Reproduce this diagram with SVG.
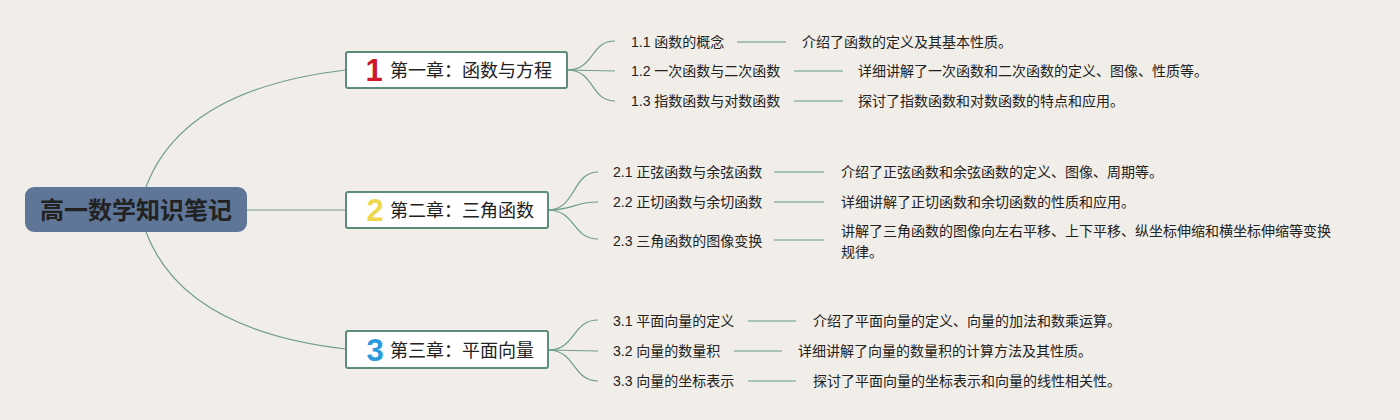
<svg xmlns="http://www.w3.org/2000/svg" width="1400" height="420" viewBox="0 0 1400 420">
<style>
.t{font-family:"Liberation Sans","Noto Sans CJK SC",sans-serif;fill:#222}
.leaf{font-size:14px}
.ch{font-size:18px}
.num{font-family:"Liberation Sans","Noto Sans CJK SC",sans-serif;font-size:31px;font-weight:900;text-anchor:middle}
.br{fill:none;stroke:#6f9c8b;stroke-width:1.2}
.ln{fill:none;stroke:#a8c2b6;stroke-width:2}
.box{fill:#fff;stroke:#5e8c7c;stroke-width:2}
</style>
<rect width="1400" height="420" fill="#f1ede8"/>
<g id="connectors">
<path class="br" d="M146,187 C175,110 260,80 346,70"/>
<path class="br" d="M247,210 L346,210"/>
<path class="br" d="M146,232 C175,309 260,339 346,349"/>
<path class="br" d="M567,70 C595,70 590,41 615,41"/>
<path class="br" d="M567,70 L615,71"/>
<path class="br" d="M567,70 C595,70 590,101 615,101"/>
<path class="br" d="M548,210 C576,210 572,172 598,172"/>
<path class="br" d="M548,210 C576,210 572,202 598,202"/>
<path class="br" d="M548,210 C576,210 572,239 598,239"/>
<path class="br" d="M548,350 C576,350 572,320 598,320"/>
<path class="br" d="M548,350 L598,351"/>
<path class="br" d="M548,350 C576,350 572,381 598,381"/>
<path class="ln" d="M737,42 H786 M794,71 H843 M794,101 H843"/>
<path class="ln" d="M774,172 H824 M774,202 H824 M774,240 H824"/>
<path class="ln" d="M748,321 H796 M734,351 H782 M748,381 H796"/>
</g>
<g id="root">
<rect x="25" y="187" width="222" height="45" rx="9" fill="#5f7699"/>
<text class="t" x="136" y="219" font-size="24" font-weight="bold" text-anchor="middle" fill="#111">高一数学知识笔记</text>
</g>
<g id="ch1">
<rect class="box" x="346" y="52" width="221" height="36" rx="2"/>
<text class="num" x="374" y="81" fill="#d0182b">1</text>
<text class="t ch" x="390" y="77">第一章：函数与方程</text>
</g>
<g id="ch2">
<rect class="box" x="346" y="192" width="202" height="36" rx="2"/>
<text class="num" x="375" y="221" fill="#f0d64a">2</text>
<text class="t ch" x="390" y="217">第二章：三角函数</text>
</g>
<g id="ch3">
<rect class="box" x="346" y="331" width="202" height="37" rx="2"/>
<text class="num" x="375" y="361" fill="#2b9be0">3</text>
<text class="t ch" x="390" y="357">第三章：平面向量</text>
</g>
<g id="s11"><text class="t leaf" x="631" y="47">1.1 函数的概念</text></g>
<g id="d11"><text class="t leaf" x="802" y="47">介绍了函数的定义及其基本性质。</text></g>
<g id="s12"><text class="t leaf" x="631" y="76">1.2 一次函数与二次函数</text></g>
<g id="d12"><text class="t leaf" x="858" y="76">详细讲解了一次函数和二次函数的定义、图像、性质等。</text></g>
<g id="s13"><text class="t leaf" x="631" y="106">1.3 指数函数与对数函数</text></g>
<g id="d13"><text class="t leaf" x="858" y="106">探讨了指数函数和对数函数的特点和应用。</text></g>
<g id="s21"><text class="t leaf" x="613" y="177">2.1 正弦函数与余弦函数</text></g>
<g id="d21"><text class="t leaf" x="841" y="177">介绍了正弦函数和余弦函数的定义、图像、周期等。</text></g>
<g id="s22"><text class="t leaf" x="613" y="207">2.2 正切函数与余切函数</text></g>
<g id="d22"><text class="t leaf" x="841" y="207">详细讲解了正切函数和余切函数的性质和应用。</text></g>
<g id="s23"><text class="t leaf" x="613" y="246">2.3 三角函数的图像变换</text></g>
<g id="d23"><text class="t leaf" x="841" y="236">讲解了三角函数的图像向左右平移、上下平移、纵坐标伸缩和横坐标伸缩等变换</text><text class="t leaf" x="841" y="257">规律。</text></g>
<g id="s31"><text class="t leaf" x="613" y="326">3.1 平面向量的定义</text></g>
<g id="d31"><text class="t leaf" x="813" y="326">介绍了平面向量的定义、向量的加法和数乘运算。</text></g>
<g id="s32"><text class="t leaf" x="613" y="356">3.2 向量的数量积</text></g>
<g id="d32"><text class="t leaf" x="798" y="356">详细讲解了向量的数量积的计算方法及其性质。</text></g>
<g id="s33"><text class="t leaf" x="613" y="386">3.3 向量的坐标表示</text></g>
<g id="d33"><text class="t leaf" x="813" y="386">探讨了平面向量的坐标表示和向量的线性相关性。</text></g>
</svg>
